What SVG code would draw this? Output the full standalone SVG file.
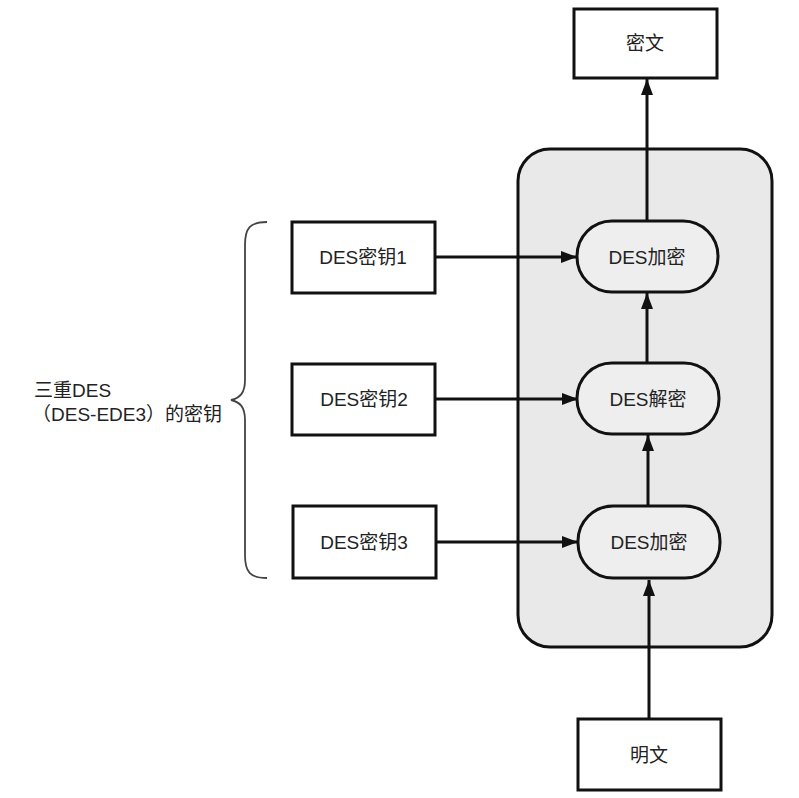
<svg xmlns="http://www.w3.org/2000/svg" width="799" height="798" viewBox="0 0 799 798">
<style>
.box{fill:#fff;stroke:#111;stroke-width:3}
.pill{fill:#eeeeee;stroke:#111;stroke-width:3}
.t{font-family:"Liberation Sans","Noto Sans CJK SC",sans-serif;font-size:19px;fill:#222;text-anchor:middle;dominant-baseline:central}
.lbl{font-family:"Liberation Sans","Noto Sans CJK SC",sans-serif;font-size:19px;fill:#222}
</style>
<defs>
<marker id="ah2" viewBox="0 0 16 12" markerWidth="16" markerHeight="12" refX="16" refY="6" orient="auto" markerUnits="userSpaceOnUse">
<path d="M0,0 L16,6 L0,12 Z" fill="#111"/>
</marker>
</defs>
<rect width="799" height="798" fill="#fff"/>
<g id="container">
<rect x="518" y="149" width="254" height="498" rx="32" fill="#e9e9e9" stroke="#111" stroke-width="3"/>
</g>
<g id="connectors" stroke="#111" stroke-width="3" fill="none">
<line x1="647" y1="220" x2="647" y2="79" marker-end="url(#ah2)"/>
<line x1="647" y1="362" x2="647" y2="293" marker-end="url(#ah2)"/>
<line x1="648" y1="505" x2="648" y2="435" marker-end="url(#ah2)"/>
<line x1="649" y1="718" x2="649" y2="580" marker-end="url(#ah2)"/>
<line x1="436" y1="257" x2="577" y2="257" marker-end="url(#ah2)"/>
<line x1="436" y1="399" x2="578" y2="399" marker-end="url(#ah2)"/>
<line x1="437" y1="542" x2="578" y2="542" marker-end="url(#ah2)"/>
</g>
<g id="ciphertext">
<rect class="box" x="574" y="9" width="143" height="69"/>
<text class="t" x="645" y="43">密文</text>
</g>
<g id="enc1">
<rect class="pill" x="577" y="221" width="141" height="71" rx="35"/>
<text class="t" x="647" y="257">DES加密</text>
</g>
<g id="dec">
<rect class="pill" x="577" y="363" width="142" height="71" rx="35"/>
<text class="t" x="648" y="399">DES解密</text>
</g>
<g id="enc3">
<rect class="pill" x="578" y="506" width="142" height="72" rx="35"/>
<text class="t" x="649" y="542">DES加密</text>
</g>
<g id="plaintext">
<rect class="box" x="578" y="719" width="143" height="71"/>
<text class="t" x="649" y="755">明文</text>
</g>
<g id="key1">
<rect class="box" x="292" y="222" width="143" height="71"/>
<text class="t" x="363" y="257">DES密钥1</text>
</g>
<g id="key2">
<rect class="box" x="292" y="364" width="143" height="71"/>
<text class="t" x="364" y="399">DES密钥2</text>
</g>
<g id="key3">
<rect class="box" x="293" y="506" width="143" height="72"/>
<text class="t" x="364" y="542">DES密钥3</text>
</g>
<g id="brace">
<path d="M267,222 C250,222 245,228 245,245 L245,380 C245,393 240,398 231,400 C240,402 245,407 245,420 L245,555 C245,572 250,578 267,578" fill="none" stroke="#444" stroke-width="1.8"/>
</g>
<g id="label">
<text class="lbl" x="34" y="397">三重DES</text>
<text class="lbl" x="32" y="421">（DES-EDE3）的密钥</text>
</g>
</svg>
